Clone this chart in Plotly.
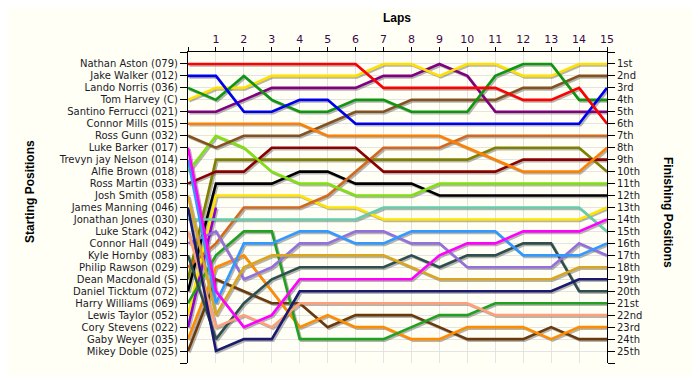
import plotly.graph_objects as go

laps = list(range(16))
lap_labels = [""] + [str(i) for i in range(1, 16)]

drivers = [
    "Nathan Aston (079)", "Jake Walker (012)", "Lando Norris (036)", "Tom Harvey (C)",
    "Santino Ferrucci (021)", "Connor Mills (015)", "Ross Gunn (032)", "Luke Barker (017)",
    "Trevyn jay Nelson (014)", "Alfie Brown (018)", "Ross Martin (033)", "Josh Smith (058)",
    "James Manning (046)", "Jonathan Jones (030)", "Luke Stark (042)", "Connor Hall (049)",
    "Kyle Hornby (083)", "Philip Rawson (029)", "Dean Macdonald (S)", "Daniel Ticktum (072)",
    "Harry Williams (069)", "Lewis Taylor (052)", "Cory Stevens (022)", "Gaby Weyer (035)",
    "Mikey Doble (025)",
]

finish_labels = ["1st", "2nd", "3rd"] + [f"{i}th" for i in range(4, 21)] + ["21st", "22nd", "23rd", "24th", "25th"]

# position of each driver at the end of each lap (lap 0 = grid)
positions = [
    [1, 1, 1, 1, 1, 1, 1, 3, 3, 3, 3, 3, 4, 4, 3, 6],            # Nathan Aston
    [2, 2, 5, 5, 4, 4, 6, 6, 6, 6, 6, 6, 6, 6, 6, 3],            # Jake Walker
    [3, 4, 2, 4, 5, 5, 4, 4, 5, 5, 5, 2, 1, 1, 4, 4],            # Lando Norris
    [4, 3, 3, 2, 2, 2, 2, 1, 1, 2, 1, 1, 2, 2, 1, 1],            # Tom Harvey
    [5, 5, 4, 3, 3, 3, 3, 2, 2, 1, 2, 5, 5, 5, 5, 5],            # Santino Ferrucci
    [6, 6, 6, 6, 6, 7, 7, 7, 7, 7, 8, 9, 10, 10, 10, 8],         # Connor Mills
    [7, 8, 7, 7, 7, 6, 5, 5, 4, 4, 4, 4, 3, 3, 2, 2],            # Ross Gunn
    [8, 20, 23, 22, 19, 19, 19, 19, 19, 17, 16, 16, 15, 15, 15, 14],  # Luke Barker
    [9, 21, 16, 16, 15, 15, 16, 16, 15, 15, 15, 15, 17, 17, 17, 16],  # Trevyn jay Nelson
    [10, 7, 8, 10, 11, 11, 12, 12, 12, 11, 11, 11, 11, 11, 11, 11],   # Alfie Brown
    [11, 10, 10, 8, 8, 8, 8, 10, 10, 10, 10, 10, 9, 9, 9, 9],    # Ross Martin
    [12, 22, 18, 17, 17, 17, 17, 17, 18, 19, 19, 19, 19, 19, 18, 18],  # Josh Smith
    [13, 25, 24, 24, 20, 20, 20, 20, 20, 20, 20, 20, 20, 20, 19, 19],  # James Manning
    [14, 14, 14, 14, 14, 14, 14, 13, 13, 13, 13, 13, 13, 13, 13, 15],  # Jonathan Jones
    [15, 23, 22, 23, 21, 21, 21, 21, 21, 21, 21, 22, 22, 22, 22, 22],  # Luke Stark
    [16, 15, 19, 18, 16, 16, 15, 15, 16, 16, 18, 18, 18, 18, 16, 17],  # Connor Hall
    [17, 24, 21, 19, 18, 18, 18, 18, 17, 18, 17, 17, 16, 16, 20, 20],  # Kyle Hornby
    [18, 16, 13, 13, 13, 12, 10, 8, 8, 8, 7, 7, 7, 7, 7, 7],     # Philip Rawson
    [19, 9, 9, 9, 9, 9, 9, 9, 9, 9, 9, 8, 8, 8, 8, 10],          # Dean Macdonald
    [20, 11, 11, 11, 10, 10, 11, 11, 11, 12, 12, 12, 12, 12, 12, 12],  # Daniel Ticktum
    [21, 17, 15, 15, 24, 24, 24, 24, 23, 22, 22, 21, 21, 21, 21, 21],  # Harry Williams
    [22, 12, 12, 12, 12, 13, 13, 14, 14, 14, 14, 14, 14, 14, 14, 13],  # Lewis Taylor
    [23, 13],                                                     # Cory Stevens (retired)
    [24, 18, 17, 20, 23, 22, 23, 23, 24, 24, 23, 23, 23, 24, 23, 23],  # Gaby Weyer
    [25, 19, 20, 21, 21, 23, 22, 22, 22, 23, 24, 24, 24, 23, 24, 24],  # Mikey Doble
]

line_colors = [
    "#FF0000", "#0000F0", "#0E960E", "#FFE000", "#800080", "#FF8000", "#845220",
    "#FF00FF", "#3399FF", "#80E010", "#8B0000", "#DAA520", "#1A1A70", "#66CDAA",
    "#FFA07A", "#9370DB", "#2F4F4F", "#D2691E", "#808000", "#000000", "#22A022",
    "#FFE400", "#9400D3", "#FF8C00", "#6B3A0C",
]

BG = "#FFFFF5"
# plot-area geometry (pixels) used only to convert a small drop-shadow offset
PX_PER_LAP = 419 / 15
PX_PER_POS = 311 / 26
shadow_dx = 1.5 / PX_PER_LAP
shadow_dy = 1.5 / PX_PER_POS

fig = go.Figure()

# shadows first
for pos in positions:
    fig.add_trace(go.Scatter(
        x=[l + shadow_dx for l in laps[:len(pos)]],
        y=[p + shadow_dy for p in pos],
        mode="lines", line=dict(color="rgba(90,90,90,0.45)", width=2.6),
        hoverinfo="skip", showlegend=False,
    ))

for name, pos, col in reversed(list(zip(drivers, positions, line_colors))):
    fig.add_trace(go.Scatter(
        x=laps[:len(pos)], y=pos, mode="lines", name=name,
        line=dict(color=col, width=2.6), showlegend=False,
    ))

# invisible trace so the right-hand axis is rendered
fig.add_trace(go.Scatter(x=[None], y=[None], yaxis="y2", showlegend=False, hoverinfo="skip"))

FONT = "DejaVu Sans, Verdana, sans-serif"
tick_font = dict(family=FONT, size=10, color="#1A1A2A")
title_font = dict(family="Liberation Sans, Arial, sans-serif", size=12, color="black")

# the page adds an 8px body margin, so the figure is 8px smaller than the window
fig.update_layout(
    width=692, height=367, autosize=False,
    margin=dict(l=180, r=93, t=44, b=12, pad=0),
    paper_bgcolor=BG, plot_bgcolor=BG,
    xaxis=dict(
        side="top", range=[0, 15], tickvals=laps, ticktext=lap_labels,
        ticks="outside", ticklen=4, tickcolor="black", showline=True, linecolor="black",
        linewidth=1, showgrid=True, gridcolor="#E4E4E4", gridwidth=1, zeroline=False,
        tickfont=dict(family=FONT, size=11, color="#3A0A4A"),
        fixedrange=True,
    ),
    yaxis=dict(
        range=[26, 0], tickvals=list(range(27)), ticktext=[""] + drivers + [""],
        ticks="outside", ticklen=7, tickcolor="black", showline=True, linecolor="black",
        linewidth=1, showgrid=True, gridcolor="#E4E4E4", gridwidth=1, zeroline=False,
        tickfont=tick_font, fixedrange=True,
    ),
    yaxis2=dict(
        overlaying="y", side="right", range=[26, 0], tickvals=list(range(27)),
        ticktext=[""] + finish_labels + [""],
        ticks="outside", ticklen=7, tickcolor="black", showline=True, linecolor="black",
        linewidth=1, showgrid=False, zeroline=False, tickfont=tick_font, fixedrange=True,
    ),
    annotations=[
        dict(text="<b>Laps</b>", xref="paper", yref="paper", x=(397 - 188) / 419, y=(363 - 18) / 311,
             showarrow=False, font=title_font, xanchor="center", yanchor="middle"),
        dict(text="<b>Starting Positions</b>", xref="paper", yref="paper", x=(30 - 188) / 419,
             y=(363 - 192) / 311, textangle=-90, showarrow=False, font=title_font,
             xanchor="center", yanchor="middle"),
        dict(text="<b>Finishing Positions</b>", xref="paper", yref="paper", x=(668 - 188) / 419,
             y=(363 - 212) / 311, textangle=90, showarrow=False, font=title_font,
             xanchor="center", yanchor="middle"),
    ],
)

fig.write_html("out.html")
